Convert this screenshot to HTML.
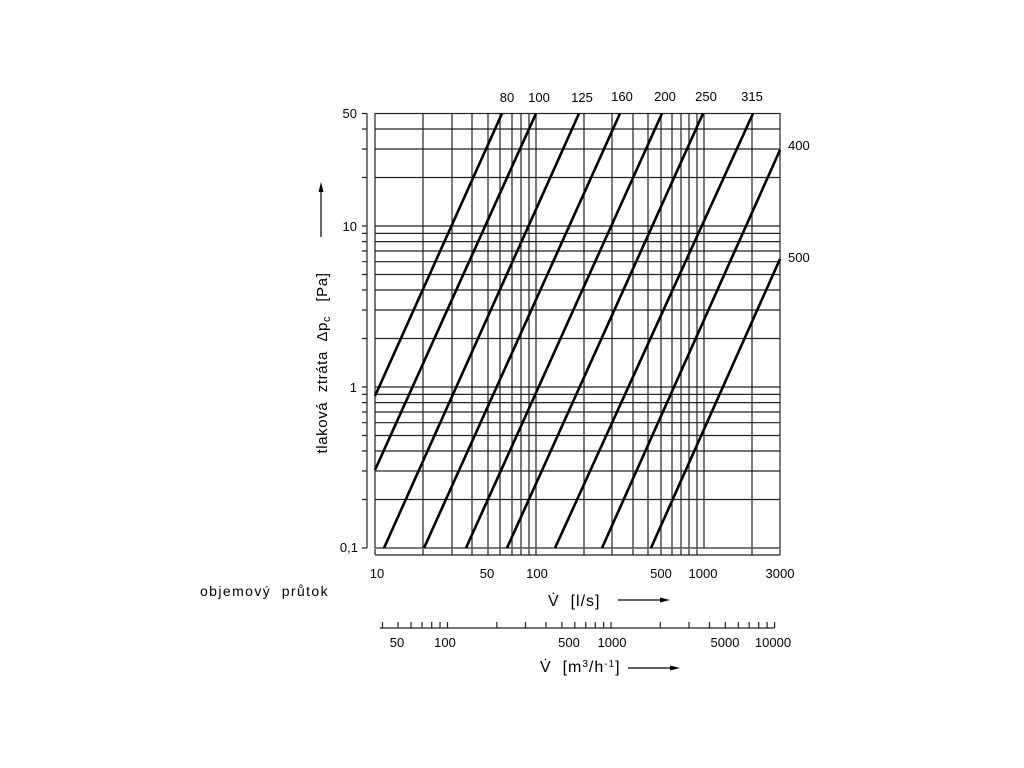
<!DOCTYPE html>
<html><head><meta charset="utf-8"><style>
html,body{margin:0;padding:0;background:#fff;}
svg{display:block;}
text{font-family:"Liberation Sans",sans-serif;font-size:13px;fill:#000;}
</style></head><body>
<svg width="1024" height="768" viewBox="0 0 1024 768" xmlns="http://www.w3.org/2000/svg">
<rect width="1024" height="768" fill="#fff"/>
<g stroke="#222" stroke-width="1.2" fill="none">
<path d="M423 113V548M452 113V548M472 113V548M488 113V548M500 113V548M512 113V548M521 113V548M529 113V548M536 113V548M584 113V548M612 113V548M633 113V548M648 113V548M661 113V548M672 113V548M681 113V548M689 113V548M697 113V548M704 113V548M752 113V548"/>
<path d="M375 129H780M375 149H780M375 177.5H780M375 226H780M375 233.4H780M375 241.6H780M375 251H780M375 261.7H780M375 274.5H780M375 290H780M375 310H780M375 338.5H780M375 387H780M375 394.4H780M375 402.6H780M375 412H780M375 422.7H780M375 435.5H780M375 451H780M375 471H780M375 499.5H780"/>
<rect x="375" y="113.5" width="405" height="434.5"/>
<path d="M367 113.5V548M362 113.5H367M362 129H367M362 149H367M362 177.5H367M362 226H367M362 233.4H367M362 241.6H367M362 251H367M362 261.7H367M362 274.5H367M362 290H367M362 310H367M362 338.5H367M362 387H367M362 394.4H367M362 402.6H367M362 412H367M362 422.7H367M362 435.5H367M362 451H367M362 471H367M362 499.5H367M362 548H367"/>
<path d="M375 555H780M375 555V549M423 555V549M452 555V549M472 555V549M488 555V549M500 555V549M512 555V549M521 555V549M529 555V549M536 555V549M584 555V549M612 555V549M633 555V549M648 555V549M661 555V549M672 555V549M681 555V549M689 555V549M697 555V549M752 555V549M780 555V549"/>
<path d="M380 628H774.6M382.5 628V622M398 628V622M411 628V622M422 628V622M431.7 628V622M440 628V622M447.5 628V622M496.8 628V622M525.5 628V622M546 628V622M561.9 628V622M574.8 628V622M585.8 628V622M595.3 628V622M603.6 628V622M611 628V622M660.3 628V622M689 628V622M709.5 628V622M725.3 628V622M738.3 628V622M749.2 628V622M758.7 628V622M767.1 628V622M774.6 628V622"/>
</g>
<g stroke="#000" stroke-width="2.6" fill="none">
<line x1="375" y1="396" x2="502" y2="113.5"/>
<line x1="375" y1="470" x2="536" y2="113.5"/>
<line x1="384" y1="548" x2="579" y2="113.5"/>
<line x1="424" y1="548" x2="620" y2="113.5"/>
<line x1="466" y1="548" x2="662" y2="113.5"/>
<line x1="507" y1="548" x2="703" y2="113.5"/>
<line x1="555" y1="548" x2="753" y2="113.5"/>
<line x1="602" y1="548" x2="780" y2="150"/>
<line x1="651" y1="548" x2="780" y2="259"/>
</g>
<g text-anchor="middle">
<text x="507" y="102">80</text><text x="539" y="102">100</text><text x="582" y="102">125</text>
<text x="622" y="101">160</text><text x="665" y="101">200</text><text x="706" y="101">250</text><text x="752" y="101">315</text>
</g>
<text x="788" y="150">400</text>
<text x="788" y="262">500</text>
<g text-anchor="end">
<text x="357" y="118">50</text><text x="357" y="231">10</text><text x="357" y="392">1</text><text x="358" y="552">0,1</text>
</g>
<g text-anchor="middle">
<text x="377" y="578">10</text><text x="487" y="578">50</text><text x="537" y="578">100</text>
<text x="661" y="578">500</text><text x="703" y="578">1000</text><text x="780" y="578">3000</text>
<text x="397" y="647">50</text><text x="445" y="647">100</text><text x="569" y="647">500</text>
<text x="612" y="647">1000</text><text x="725" y="647">5000</text><text x="773" y="647">10000</text>
</g>
<text x="200" y="596" style="font-size:14px;letter-spacing:1.4px">objemový&#160; průtok</text>
<text x="548" y="606" style="font-size:16px;letter-spacing:1px">V̇&#160; [l/s]</text>
<line x1="618" y1="600" x2="662" y2="600" stroke="#000" stroke-width="1.2"/>
<polygon points="660,597.5 670,600 660,602.5" fill="#000"/>
<text x="540" y="672" style="font-size:16px;letter-spacing:1px">V̇&#160; [m<tspan dy="-5" style="font-size:10px">3</tspan><tspan dy="5">/h</tspan><tspan dy="-5" style="font-size:10px">-1</tspan><tspan dy="5">]</tspan></text>
<line x1="628" y1="668" x2="672" y2="668" stroke="#000" stroke-width="1.2"/>
<polygon points="670,665.5 680,668 670,670.5" fill="#000"/>
<text transform="translate(327,363) rotate(-90)" text-anchor="middle" style="font-size:15px;letter-spacing:0.6px">tlaková&#160; ztráta&#160; Δp<tspan style="font-size:11px" dy="3">c</tspan><tspan dy="-3">&#160;&#160; [Pa]</tspan></text>
<line x1="321" y1="237" x2="321" y2="190" stroke="#000" stroke-width="1.2"/>
<polygon points="318.5,192 321,182 323.5,192" fill="#000"/>
</svg>
</body></html>
